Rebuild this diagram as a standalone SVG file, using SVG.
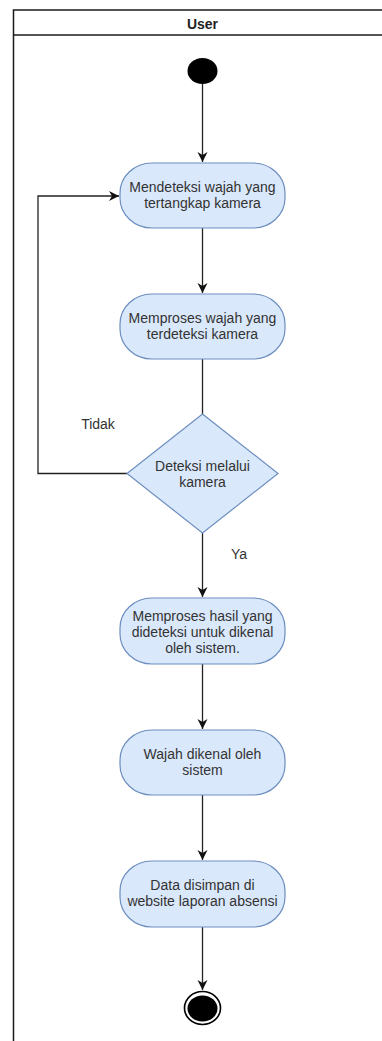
<svg xmlns="http://www.w3.org/2000/svg" width="382" height="1041" viewBox="0 0 382 1041">
  <defs>
    <style>
      .lane { fill: none; stroke: #1a1a1a; stroke-width: 1.5; }
      .act { fill: #dae8fc; stroke: #6c8ebf; stroke-width: 1.2; }
      .lbl { font-family: "Liberation Sans", Arial, sans-serif; font-size: 14px; fill: #333333; text-anchor: middle; }
      .edge { fill: none; stroke: #222222; stroke-width: 1.3; }
    </style>
    <marker id="arrow" markerUnits="userSpaceOnUse" markerWidth="11" markerHeight="11" refX="10" refY="5.5" orient="auto">
      <path d="M0,0.5 L10,5.5 L0,10.5 L3,5.5 Z" fill="#111111"/>
    </marker>
  </defs>

  <rect width="382" height="1041" fill="#ffffff"/>

  <!-- swimlane -->
  <g id="lane-user">
    <path class="lane" d="M13.5,1041 V10 H382"/>
    <path class="lane" d="M13.5,35 H382"/>
    <text x="202.5" y="29" class="lbl" style="font-weight:bold;fill:#222">User</text>
  </g>

  <!-- connectors -->
  <g id="connectors">
    <path class="edge" d="M202.5,84 V162" marker-end="url(#arrow)"/>
    <path class="edge" d="M202.5,228 V293" marker-end="url(#arrow)"/>
    <path class="edge" d="M202.5,359 V414"/>
    <path class="edge" d="M127,473.5 H38 V196 H119" marker-end="url(#arrow)"/>
    <path class="edge" d="M202.5,533 V597" marker-end="url(#arrow)"/>
    <path class="edge" d="M202.5,664 V729" marker-end="url(#arrow)"/>
    <path class="edge" d="M202.5,795 V860" marker-end="url(#arrow)"/>
    <path class="edge" d="M202.5,927 V990" marker-end="url(#arrow)"/>
    <text x="98" y="429" class="lbl">Tidak</text>
    <text x="231" y="559" class="lbl" style="text-anchor:start">Ya</text>
  </g>

  <!-- initial node -->
  <g id="start">
    <ellipse cx="202.5" cy="71" rx="15" ry="13" fill="#000000"/>
  </g>

  <g id="act-detect">
    <rect class="act" x="120" y="163" width="165" height="65" rx="32" ry="30"/>
    <text class="lbl" x="202.5" y="192">Mendeteksi wajah yang</text>
    <text class="lbl" x="202.5" y="208">tertangkap kamera</text>
  </g>

  <g id="act-process-face">
    <rect class="act" x="120" y="294" width="165" height="65" rx="32" ry="30"/>
    <text class="lbl" x="202.5" y="323">Memproses wajah yang</text>
    <text class="lbl" x="202.5" y="339">terdeteksi kamera</text>
  </g>

  <g id="decision">
    <polygon class="act" points="202.5,414 278,473.5 202.5,533 127,473.5"/>
    <text class="lbl" x="202.5" y="471">Deteksi melalui</text>
    <text class="lbl" x="202.5" y="487">kamera</text>
  </g>

  <g id="act-process-result">
    <rect class="act" x="120" y="598" width="165" height="66" rx="32" ry="30"/>
    <text class="lbl" x="202.5" y="621">Memproses hasil yang</text>
    <text class="lbl" x="202.5" y="637">dideteksi untuk dikenal</text>
    <text class="lbl" x="202.5" y="653">oleh sistem.</text>
  </g>

  <g id="act-recognized">
    <rect class="act" x="120" y="730" width="165" height="65" rx="32" ry="30"/>
    <text class="lbl" x="202.5" y="759">Wajah dikenal oleh</text>
    <text class="lbl" x="202.5" y="775">sistem</text>
  </g>

  <g id="act-save">
    <rect class="act" x="120" y="861" width="165" height="66" rx="32" ry="30"/>
    <text class="lbl" x="202.5" y="890">Data disimpan di</text>
    <text class="lbl" x="202.5" y="906">website laporan absensi</text>
  </g>

  <!-- final node -->
  <g id="end">
    <ellipse cx="202.5" cy="1008" rx="18" ry="16.5" fill="#ffffff" stroke="#000000" stroke-width="1.6"/>
    <ellipse cx="202.5" cy="1008.5" rx="15" ry="13" fill="#000000"/>
  </g>
</svg>
